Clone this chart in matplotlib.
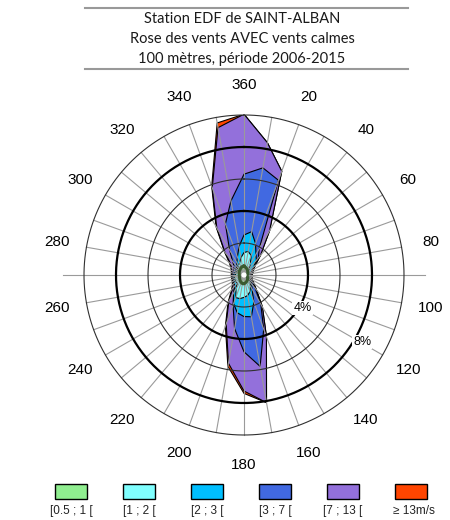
import numpy as np
import matplotlib
matplotlib.use('Agg')
import matplotlib.pyplot as plt
from matplotlib.patches import Rectangle

# ---------------- data ----------------
directions = np.arange(0, 360, 10)  # degrees, compass
# cumulative frequencies (%) per direction, including all classes up to the named one
cum_ge13 = [10.05, 8.4, 6.9, 3.2, 1.6, 0.9, 0.7, 0.6, 0.55, 0.5, 0.5, 0.55, 0.6, 0.8, 1.2, 2.3,
            4.1, 8.1, 7.4, 5.8, 3.4, 2.0, 1.2, 0.95, 0.85, 0.8, 0.8, 0.8, 0.8, 0.85, 0.95, 1.2,
            1.9, 3.5, 5.9, 9.65]
cum_7_13 = [10.05, 8.4, 6.9, 3.2, 1.6, 0.9, 0.7, 0.6, 0.55, 0.5, 0.5, 0.55, 0.6, 0.8, 1.2, 2.3,
            4.1, 8.1, 7.25, 5.6, 3.25, 1.9, 1.1, 0.9, 0.82, 0.78, 0.78, 0.78, 0.78, 0.82, 0.9, 1.1,
            1.85, 3.4, 5.8, 9.35]
cum_3_7 = [6.3, 6.8, 6.3, 1.9, 1.4, 0.8, 0.6, 0.55, 0.5, 0.45, 0.45, 0.5, 0.55, 0.7, 1.1, 2.1,
           3.6, 5.8, 4.8, 3.4, 2.0, 1.3, 0.9, 0.85, 0.8, 0.78, 0.75, 0.75, 0.72, 0.72, 0.75, 0.8,
           1.1, 1.8, 3.4, 4.7]
cum_2_3 = [2.5, 2.75, 2.1, 1.5, 1.2, 0.8, 0.55, 0.45, 0.4, 0.38, 0.38, 0.4, 0.45, 0.55, 0.75, 1.0,
           1.8, 2.65, 2.6, 2.4, 1.9, 1.3, 0.9, 0.8, 0.72, 0.7, 0.7, 0.65, 0.6, 0.6, 0.6, 0.65,
           0.7, 0.9, 1.2, 1.8]
cum_1_2 = [1.4, 1.5, 1.3, 0.8, 0.5, 0.4, 0.35, 0.33, 0.32, 0.3, 0.3, 0.32, 0.35, 0.45, 0.6, 0.8,
           1.1, 1.3, 1.4, 1.5, 1.5, 1.0, 0.65, 0.65, 0.62, 0.62, 0.6, 0.55, 0.5, 0.5, 0.5, 0.55,
           0.6, 0.7, 0.8, 1.1]
cum_05_1 = [0.55, 0.5, 0.45, 0.4, 0.35, 0.3, 0.28, 0.25, 0.22, 0.2, 0.2, 0.22, 0.25, 0.3, 0.35, 0.4,
            0.45, 0.5, 0.55, 0.55, 0.5, 0.45, 0.4, 0.35, 0.32, 0.3, 0.3, 0.3, 0.3, 0.32, 0.35, 0.38,
            0.4, 0.45, 0.5, 0.55]

class_labels = ['[0.5 ; 1 [', '[1 ; 2 [', '[2 ; 3 [', '[3 ; 7 [', '[7 ; 13 [', '\u2265 13m/s']
class_colors = ['#90EE90', '#80FFFF', '#00BFFF', '#4169E1', '#9370DB', '#FF4500']
layers = [cum_05_1, cum_1_2, cum_2_3, cum_3_7, cum_7_13, cum_ge13]

tick_angles = [0, 20, 40, 60, 80, 100, 120, 140, 160, 180, 200, 220, 240, 260, 280, 300, 320, 340]
tick_texts = ['360', '20', '40', '60', '80', '100', '120', '140', '160', '180', '200', '220',
              '240', '260', '280', '300', '320', '340']
rings = [2, 4, 6, 8, 10]
ring_labels = {4: '4%', 8: '8%'}

title_lines = ['Station EDF de SAINT-ALBAN', 'Rose des vents AVEC vents calmes',
               '100 m\u00e8tres, p\u00e9riode 2006-2015']

# ---------------- figure ----------------
W, H = 450, 520
fig = plt.figure(figsize=(W / 100, H / 100), dpi=100)

# overlay axes in pixel coordinates (title + legend)
ov = fig.add_axes([0, 0, 1, 1])
ov.set_xlim(0, W)
ov.set_ylim(H, 0)
ov.axis('off')

cx, cy, R = 244, 275, 160
ax = fig.add_axes([(cx - R) / W, 1 - (cy + R) / H, 2 * R / W, 2 * R / H], projection='polar')
ax.set_theta_zero_location('N')
ax.set_theta_direction(-1)
ax.set_rlim(0, 10)
ax.axis('off')

theta = np.deg2rad(np.append(directions, directions[0]))
for vals, col in zip(layers[::-1], class_colors[::-1]):
    r = np.append(vals, vals[0])
    ax.fill(theta, r, facecolor=col, edgecolor='black', linewidth=0.8, zorder=2)
# innermost outline (dark green) and calm dot
r = np.append(cum_05_1, cum_05_1[0])
ax.plot(theta, r, color='#3a5a30', linewidth=2.2, zorder=5)
ax.fill(np.linspace(0, 2 * np.pi, 40), np.full(40, 0.12), color='white', zorder=6)

# grid on top
for d in range(0, 360, 10):
    rmax = 11.3 if d in (90, 270) else 10
    ax.plot([np.deg2rad(d)] * 2, [0.15, rmax], color='#9a9a9a', linewidth=0.8, zorder=3,
            clip_on=False)
tt = np.linspace(0, 2 * np.pi, 400)
for rr in rings:
    thick = rr in ring_labels
    ax.plot(tt, np.full_like(tt, rr), color='black' if thick else '#303030',
            linewidth=1.6 if thick else 0.8, zorder=4, clip_on=False)

for rr, lab in ring_labels.items():
    ax.text(np.deg2rad(119.6), rr + 0.2 + (0.3 if rr == 8 else 0), lab, ha='center', va='center',
            fontsize=9, family='Liberation Sans', zorder=7,
            bbox=dict(facecolor='white', edgecolor='none', pad=0.8))

for a, t in zip(tick_angles, tick_texts):
    ax.text(np.deg2rad(a), 11.85, t, ha='center', va='center', fontsize=11,
            family='Liberation Sans', clip_on=False)

# title box
ov.plot([85, 408], [8, 8], color='#999999', linewidth=1.5)
ov.plot([85, 408], [69, 69], color='#999999', linewidth=1.5)
for i, line in enumerate(title_lines):
    ov.text(242, 19 + 20 * i, line, ha='center', va='center', fontsize=10.5,
            family='Lato', color='#1a1a1a')

# legend
for i, (lab, col) in enumerate(zip(class_labels, class_colors)):
    x0 = 55 + 68 * i
    ov.add_patch(Rectangle((x0, 484), 32, 15, facecolor=col, edgecolor='black', linewidth=1))
    ov.text(x0 + 16 + (3 if i == 5 else 0), 511, lab, ha='center', va='center', fontsize=8.5,
            family=['Liberation Sans', 'DejaVu Sans'], color='#222222')

fig.savefig('out.png', dpi=100)
